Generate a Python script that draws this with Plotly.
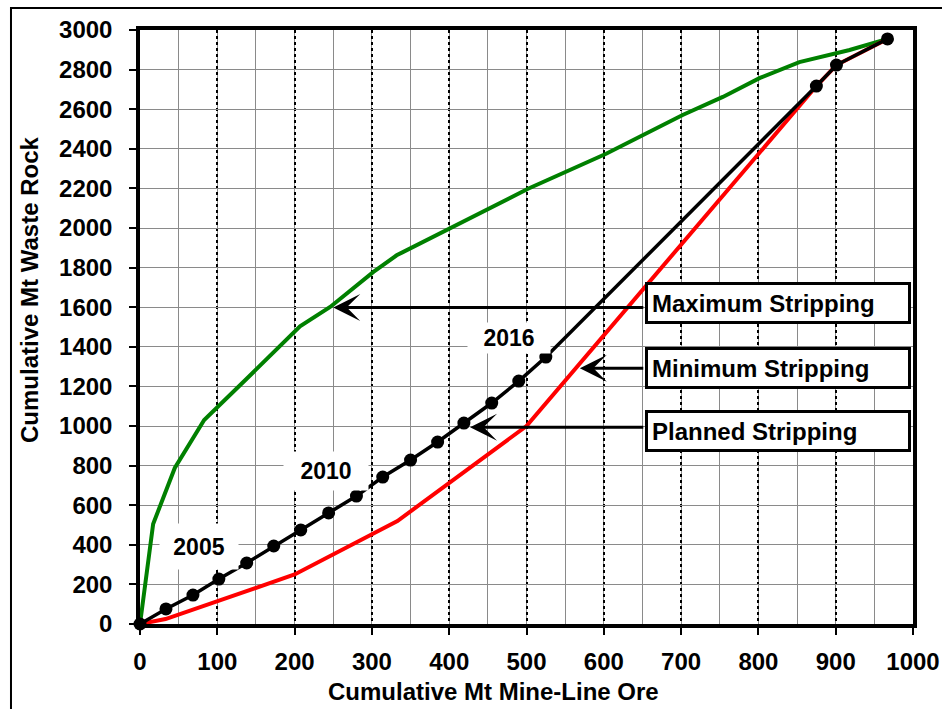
import plotly.graph_objects as go

# Planned stripping (annual points)
planned_x = [0, 33.6, 68.5, 102, 138, 173, 208, 244, 280, 314, 350, 385, 419, 455, 490, 525, 875, 901, 967]
planned_y = [0, 76, 146, 227, 308, 394, 475, 561, 646, 742, 828, 919, 1015, 1116, 1227, 1348, 2717, 2823, 2955]

# Maximum stripping
max_x = [0, 17, 45, 83, 136, 207, 246, 302, 332, 401, 502, 603, 702, 754, 802, 853, 918, 967]
max_y = [0, 505, 788, 1030, 1231, 1503, 1601, 1778, 1862, 1997, 2198, 2375, 2571, 2662, 2758, 2838, 2899, 2955]

# Minimum stripping
min_x = [0, 33, 200, 333, 500, 875, 901, 967]
min_y = [0, 25, 250, 520, 1000, 2717, 2823, 2955]

x_ticks = list(range(0, 1001, 100))
y_ticks = list(range(0, 3001, 200))

year_labels = ["2005", "2010", "2016"]
year_pos = [(76, 390), (241, 774), (477, 1443)]
year_box = [(78, 45), (84, 38), (82, 30)]

box_labels = ["Maximum Stripping", "Minimum Stripping", "Planned Stripping"]
box_y = [0.5404, 0.4318, 0.3241]
arrow_tips = [(250, 1599), (569, 1292), (427, 994)]
arrow_tail_x = 653

FONT = "Arial, Liberation Sans, sans-serif"

fig = go.Figure()
fig.add_trace(go.Scatter(x=max_x, y=max_y, mode="lines",
                         line=dict(color="#008000", width=4), cliponaxis=False))
fig.add_trace(go.Scatter(x=min_x, y=min_y, mode="lines",
                         line=dict(color="#ff0000", width=4), cliponaxis=False))
fig.add_trace(go.Scatter(x=planned_x, y=planned_y, mode="lines+markers",
                         line=dict(color="black", width=3.5),
                         marker=dict(color="black", size=13), cliponaxis=False))

annotations = []
for t, (xx, yy), (bw, bh) in zip(year_labels, year_pos, year_box):
    annotations.append(dict(x=xx, y=yy, xref="x", yref="y", text=t, showarrow=False,
                            width=bw, height=bh, align="center", valign="middle",
                            font=dict(family=FONT, size=23, color="black", weight="bold"),
                            bgcolor="white", borderpad=0))

for (tx, ty) in arrow_tips:
    annotations.append(dict(x=tx, y=ty, xref="x", yref="y", ax=arrow_tail_x, ay=ty,
                            axref="x", ayref="y", text="", showarrow=True,
                            arrowhead=3, arrowsize=1.5, arrowwidth=3, arrowcolor="black"))

for t, yy in zip(box_labels, box_y):
    annotations.append(dict(x=0.8254, y=yy, xref="paper", yref="paper", text=t,
                            showarrow=False, xanchor="center", yanchor="middle",
                            width=252, height=28, align="left", valign="middle",
                            font=dict(family=FONT, size=24, color="black", weight="bold"),
                            bgcolor="white", bordercolor="black", borderwidth=3, borderpad=4))

annotations.append(dict(x=-0.1423, y=0.5623, xref="paper", yref="paper",
                        text="Cumulative Mt Waste Rock", textangle=-90, showarrow=False,
                        xanchor="center", yanchor="middle",
                        font=dict(family=FONT, size=24, color="black", weight="bold")))
annotations.append(dict(x=0.4567, y=-0.1128, xref="paper", yref="paper",
                        text="Cumulative Mt Mine-Line Ore", showarrow=False,
                        xanchor="center", yanchor="middle",
                        font=dict(family=FONT, size=24, color="black", weight="bold")))

fig.update_layout(
    width=942, height=709,
    margin=dict(l=140, r=29, t=30, b=85),
    paper_bgcolor="white", plot_bgcolor="white",
    showlegend=False,
    annotations=annotations,
    shapes=[dict(type="rect", xref="paper", yref="paper",
                 x0=-0.1669, x1=1.1, y0=-0.2, y1=1.037,
                 line=dict(color="black", width=2), fillcolor="rgba(0,0,0,0)")],
)

fig.update_xaxes(range=[0, 1000], tickvals=x_ticks, ticktext=[str(v) for v in x_ticks],
                 automargin=False,
                 showgrid=True, gridcolor="black", griddash="dot", gridwidth=2,
                 minor=dict(dtick=50, showgrid=True, gridcolor="#8a8a8a", gridwidth=1,
                            griddash="solid"),
                 zeroline=False, showline=True, linecolor="black", linewidth=3.5, mirror=True,
                 ticks="outside", ticklen=7, tickwidth=1.5, tickcolor="black",
                 ticklabelstandoff=6,
                 tickfont=dict(family=FONT, size=24, color="black", weight="bold"))
fig.update_yaxes(range=[0, 3000], tickvals=y_ticks, ticktext=[str(v) for v in y_ticks],
                 automargin=False,
                 showgrid=True, gridcolor="#8a8a8a", gridwidth=1,
                 zeroline=False, showline=True, linecolor="black", linewidth=3.5, mirror=True,
                 ticks="outside", ticklen=7, tickwidth=1.5, tickcolor="black",
                 ticklabelstandoff=12,
                 tickfont=dict(family=FONT, size=24, color="black", weight="bold"))

fig.write_html("out.html", config={"displayModeBar": False},
               post_script="document.body.style.margin='0';document.body.style.overflow='hidden';")
